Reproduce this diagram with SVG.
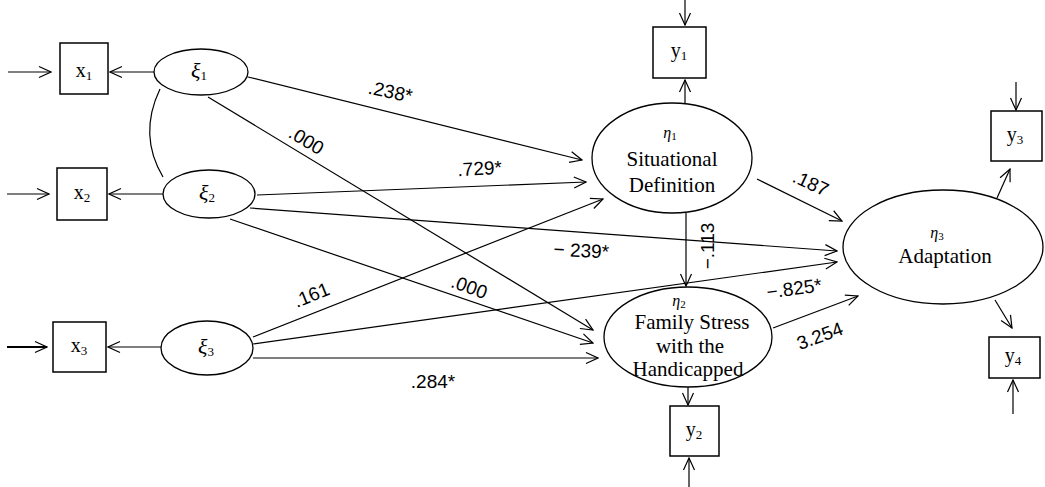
<svg xmlns="http://www.w3.org/2000/svg" width="1045" height="487" viewBox="0 0 1045 487">
<style>
.box{fill:#fff;stroke:#000;stroke-width:1.5}
.ell{fill:#fff;stroke:#000;stroke-width:1.3}
.ln{fill:none;stroke:#000;stroke-width:1.2}
.arr{fill:none;stroke:#000;stroke-width:1.2;marker-end:url(#a)}
.var{font-family:"Liberation Serif","DejaVu Serif",serif;font-size:20px;text-anchor:middle}
.sub{font-size:13px}
.grk{font-family:"Liberation Serif","DejaVu Serif",serif;font-style:italic;font-size:22px;text-anchor:middle}
.eta{font-family:"Liberation Serif","DejaVu Serif",serif;font-style:italic;font-size:16px;text-anchor:middle}
.nm{font-family:"Liberation Serif","DejaVu Serif",serif;font-size:21px;text-anchor:middle}
.lbl{font-family:"Liberation Sans",Arial,sans-serif;font-size:19px;text-anchor:middle}
</style>
<defs>
<marker id="a" markerWidth="14" markerHeight="14" refX="13" refY="7" orient="auto" markerUnits="userSpaceOnUse">
<path d="M1,1.5 L13,7 L1,12.5" fill="none" stroke="#000" stroke-width="1.2"/>
</marker>
</defs>
<rect width="1045" height="487" fill="#fff"/>
<g id="connectors">
<line class="arr" x1="8" y1="72" x2="51" y2="72"/>
<line class="arr" x1="154" y1="72" x2="110" y2="72"/>
<line class="arr" x1="7" y1="194" x2="49" y2="194"/>
<line class="arr" x1="163" y1="194" x2="109" y2="194"/>
<line class="arr" x1="7" y1="347" x2="47" y2="347" style="stroke-width:2.2"/>
<line class="arr" x1="161" y1="347" x2="108" y2="347"/>
<path class="ln" d="M160,89 Q138,135 163,177"/>
<line class="arr" x1="248" y1="77" x2="582" y2="160"/>
<line class="arr" x1="208" y1="97" x2="593" y2="330"/>
<line class="arr" x1="257" y1="195" x2="586" y2="182"/>
<line class="arr" x1="250" y1="208" x2="837" y2="251"/>
<line class="arr" x1="230" y1="219" x2="593" y2="343"/>
<line class="arr" x1="253" y1="337" x2="603" y2="199"/>
<line class="arr" x1="253" y1="344" x2="837" y2="262"/>
<line class="arr" x1="253" y1="358" x2="598" y2="358"/>
<line class="arr" x1="685" y1="103" x2="685" y2="80"/>
<line class="arr" x1="685" y1="0" x2="685" y2="25"/>
<line class="arr" x1="686" y1="213" x2="686" y2="286"/>
<line class="arr" x1="757" y1="179" x2="842" y2="221"/>
<line class="arr" x1="688" y1="387" x2="688" y2="405"/>
<line class="arr" x1="689" y1="487" x2="689" y2="458"/>
<line class="arr" x1="773" y1="328" x2="858" y2="296"/>
<line class="arr" x1="997" y1="198" x2="1010" y2="169"/>
<line class="arr" x1="1016" y1="82" x2="1016" y2="110"/>
<line class="arr" x1="995" y1="300" x2="1012" y2="328"/>
<line class="arr" x1="1013" y1="414" x2="1013" y2="380"/>
</g>
<g id="labels">
<text class="lbl" transform="translate(389,98) rotate(12)">.238*</text>
<text class="lbl" transform="translate(303,146) rotate(31)">.000</text>
<text class="lbl" transform="translate(480,175) rotate(-3)">.729*</text>
<text class="lbl" transform="translate(581,257) rotate(3)">− 239*</text>
<text class="lbl" transform="translate(314,301) rotate(-22)">.161</text>
<text class="lbl" transform="translate(467,293) rotate(20)">.000</text>
<text class="lbl" x="433" y="388">.284*</text>
<text class="lbl" transform="translate(822,342) rotate(-20)">3.254</text>
<text class="lbl" transform="translate(795,295) rotate(-8)">−.825*</text>
<text class="lbl" transform="translate(808,189) rotate(25)">.187</text>
<text class="lbl" transform="translate(714,246) rotate(-90)">−.113</text>
</g>
<g id="x1"><rect class="box" x="60" y="43" width="48" height="51"/><text class="var" x="84" y="77">x<tspan class="sub" dy="3">1</tspan></text></g>
<g id="x2"><rect class="box" x="57" y="168" width="50" height="52"/><text class="var" x="82" y="199">x<tspan class="sub" dy="3">2</tspan></text></g>
<g id="x3"><rect class="box" x="53" y="322" width="53" height="50"/><text class="var" x="79" y="352">x<tspan class="sub" dy="3">3</tspan></text></g>
<g id="xi1"><ellipse class="ell" cx="201" cy="72" rx="47" ry="23"/><text class="grk" x="199" y="78">ξ<tspan class="sub" dy="2" style="font-style:normal">1</tspan></text></g>
<g id="xi2"><ellipse class="ell" cx="209" cy="194" rx="46" ry="24"/><text class="grk" x="207" y="200">ξ<tspan class="sub" dy="2" style="font-style:normal">2</tspan></text></g>
<g id="xi3"><ellipse class="ell" cx="207" cy="348" rx="46" ry="27"/><text class="grk" x="206" y="354">ξ<tspan class="sub" dy="2" style="font-style:normal">3</tspan></text></g>
<g id="y1"><rect class="box" x="653" y="27" width="53" height="51"/><text class="var" x="679" y="57">y<tspan class="sub" dy="3">1</tspan></text></g>
<g id="eta1"><ellipse class="ell" cx="672" cy="158" rx="80" ry="55"/>
<text class="eta" x="670" y="138">η<tspan class="sub" dy="2" style="font-style:normal;font-size:11px">1</tspan></text>
<text class="nm" x="672" y="166">Situational</text><text class="nm" x="672" y="192">Definition</text></g>
<g id="eta2"><ellipse class="ell" cx="688" cy="337" rx="84" ry="50"/>
<text class="eta" x="679" y="306">η<tspan class="sub" dy="2" style="font-style:normal;font-size:11px">2</tspan></text>
<text class="nm" x="692" y="329">Family Stress</text><text class="nm" x="690" y="353">with the</text><text class="nm" x="688" y="376">Handicapped</text></g>
<g id="y2"><rect class="box" x="670" y="406" width="49" height="50"/><text class="var" x="694" y="436">y<tspan class="sub" dy="3">2</tspan></text></g>
<g id="eta3"><ellipse class="ell" cx="943" cy="247" rx="100" ry="57"/>
<text class="eta" x="937" y="238">η<tspan class="sub" dy="2" style="font-style:normal;font-size:11px">3</tspan></text>
<text class="nm" x="945" y="263">Adaptation</text></g>
<g id="y3"><rect class="box" x="991" y="111" width="51" height="50"/><text class="var" x="1015" y="141">y<tspan class="sub" dy="3">3</tspan></text></g>
<g id="y4"><rect class="box" x="989" y="337" width="51" height="41"/><text class="var" x="1013" y="362">y<tspan class="sub" dy="3">4</tspan></text></g>
</svg>
